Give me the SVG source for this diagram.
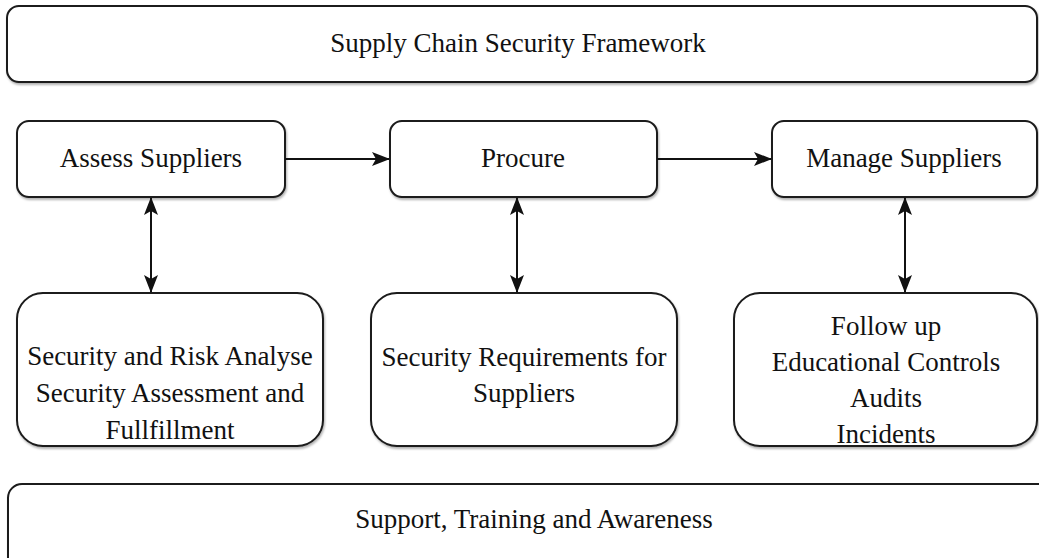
<svg xmlns="http://www.w3.org/2000/svg" width="1039" height="558" viewBox="0 0 1039 558">
<style>
.box{fill:#fff;stroke:#1a1a1a;stroke-width:2;filter:url(#sh)}
.t{font-family:"Liberation Serif","Times New Roman",serif;font-size:27px;fill:#111;text-anchor:middle;dominant-baseline:central}
.c{stroke:#111;stroke-width:2;fill:none}
</style>
<defs>
<filter id="sh" x="-5%" y="-5%" width="110%" height="120%">
<feDropShadow dx="1" dy="2" stdDeviation="1" flood-color="#000" flood-opacity="0.3"/>
</filter>
<marker id="ah" viewBox="0 0 18 14" refX="17" refY="7" markerWidth="18" markerHeight="14" markerUnits="userSpaceOnUse" orient="auto-start-reverse">
<path d="M0,0 L18,7 L0,14 L4,7 Z" fill="#111"/>
</marker>
</defs>
<rect width="1039" height="558" fill="#fff"/>
<g id="framework"><rect class="box" x="7" y="6" width="1030" height="76" rx="12"/><text class="t" x="518" y="43">Supply Chain Security Framework</text></g>
<g id="assess"><rect class="box" x="17" y="121" width="268" height="76" rx="12"/><text class="t" x="151" y="158">Assess Suppliers</text></g>
<g id="procure"><rect class="box" x="390" y="121" width="267" height="76" rx="12"/><text class="t" x="523" y="158">Procure</text></g>
<g id="manage"><rect class="box" x="772" y="121" width="265" height="76" rx="12"/><text class="t" x="904" y="158">Manage Suppliers</text></g>
<g id="analyse"><rect class="box" x="17" y="293" width="306" height="153" rx="26"/>
<text class="t" x="170"><tspan x="170" y="356">Security and Risk Analyse</tspan><tspan x="170" y="393">Security Assessment and</tspan><tspan x="170" y="430">Fullfillment</tspan></text></g>
<g id="requirements"><rect class="box" x="371" y="293" width="306" height="153" rx="26"/>
<text class="t" x="524"><tspan x="524" y="357">Security Requirements for</tspan><tspan x="524" y="393">Suppliers</tspan></text></g>
<g id="followup"><rect class="box" x="734" y="293" width="303" height="153" rx="26"/>
<text class="t" x="886"><tspan x="886" y="326">Follow up</tspan><tspan x="886" y="362">Educational Controls</tspan><tspan x="886" y="398">Audits</tspan><tspan x="886" y="434">Incidents</tspan></text></g>
<g id="support"><rect class="box" x="8" y="484" width="1052" height="90" rx="14"/><text class="t" x="534" y="519">Support, Training and Awareness</text></g>
<g id="connectors">
<path class="c" d="M285,159 H389" marker-end="url(#ah)"/>
<path class="c" d="M657,159 H771" marker-end="url(#ah)"/>
<path class="c" d="M151,198 V292" marker-start="url(#ah)" marker-end="url(#ah)"/>
<path class="c" d="M517,198 V292" marker-start="url(#ah)" marker-end="url(#ah)"/>
<path class="c" d="M905,198 V292" marker-start="url(#ah)" marker-end="url(#ah)"/>
</g>
</svg>
